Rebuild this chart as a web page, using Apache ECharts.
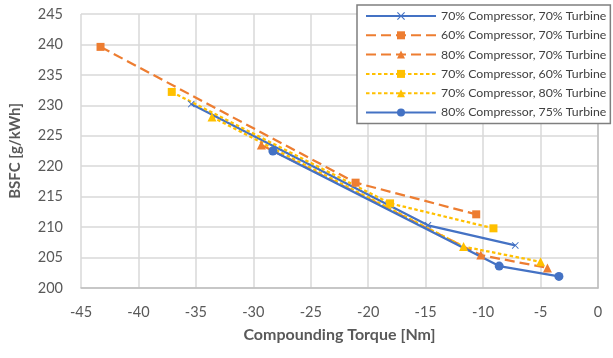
<!DOCTYPE html>
<html>
<head>
<meta charset="utf-8">
<script src="https://cdn.jsdelivr.net/npm/echarts@6/dist/echarts.min.js"></script>
<style>
  html, body { margin: 0; padding: 0; background: #fff; }
  #chart { width: 613px; height: 358px; }
</style>
</head>
<body>
<div id="chart"></div>
<script>
// series names
const seriesNames = [
  '70% Compressor, 70% Turbine',
  '60% Compressor, 70% Turbine',
  '80% Compressor, 70% Turbine',
  '70% Compressor, 60% Turbine',
  '70% Compressor, 80% Turbine',
  '80% Compressor, 75% Turbine'
];

// [torque, bsfc]
const c70t70 = [[-35.4, 230.2], [-14.8, 210.3], [-7.2, 207.0]];
const c60t70 = [[-43.3, 239.6], [-21.1, 217.3], [-10.6, 212.1]];
const c80t70 = [[-29.3, 223.5], [-10.2, 205.4], [-4.4, 203.3]];
const c70t60 = [[-37.1, 232.2], [-18.1, 213.9], [-9.1, 209.8]];
const c70t80 = [[-33.6, 228.1], [-11.7, 206.8], [-5.0, 204.3]];
const c80t75 = [[-28.3, 222.5], [-8.6, 203.6], [-3.4, 201.9]];

const xTicks = [-45, -40, -35, -30, -25, -20, -15, -10, -5, 0];
const yTicks = [200, 205, 210, 215, 220, 225, 230, 235, 240, 245];

const BLUE = '#4472C4', ORANGE = '#ED7D31', GOLD = '#FFC000';
const crossPath = 'path://M1,0L5,4L9,0L10,1L6,5L10,9L9,10L5,6L1,10L0,9L4,5L0,1Z';

const chart = echarts.init(document.getElementById('chart'), null, { renderer: 'canvas' });

const mk = (name, data, color, dash, symbol, size) => ({
  name,
  type: 'line',
  data,
  showSymbol: true,
  symbol,
  symbolSize: size,
  lineStyle: { color, width: 2.25, type: dash },
  itemStyle: { color, borderColor: color, borderWidth: 0 },
  animation: false
});

const option = {
  textStyle: { fontFamily: 'Lato, "Liberation Sans", sans-serif' },
  grid: { left: 80, right: 15, top: 14, bottom: 70 },
  xAxis: {
    type: 'value',
    min: xTicks[0],
    max: xTicks[xTicks.length - 1],
    interval: 5,
    name: 'Compounding Torque [Nm]',
    nameLocation: 'middle',
    nameGap: 39,
    nameTextStyle: { color: '#595959', fontSize: 16, fontWeight: 'bold' },
    axisLine: { lineStyle: { color: '#bfbfbf', width: 1.5 } },
    axisTick: { show: false },
    axisLabel: { color: '#595959', fontSize: 14.5, margin: 17 },
    splitLine: { lineStyle: { color: '#d9d9d9', width: 1.5 } }
  },
  yAxis: {
    type: 'value',
    min: yTicks[0],
    max: yTicks[yTicks.length - 1],
    interval: 5,
    name: 'BSFC [g/kWh]',
    nameLocation: 'middle',
    nameGap: 58,
    nameTextStyle: { color: '#595959', fontSize: 15, fontWeight: 'bold' },
    axisLine: { show: true, lineStyle: { color: '#bfbfbf', width: 1.5 } },
    axisTick: { show: false },
    axisLabel: { color: '#595959', fontSize: 14.5, margin: 18 },
    splitLine: { lineStyle: { color: '#d9d9d9', width: 1.5 } }
  },
  legend: {
    orient: 'vertical',
    left: 357,
    top: 5,
    padding: [4, 4, 4, 8],
    itemWidth: 70,
    itemHeight: 10,
    itemGap: 5.3,
    backgroundColor: '#fff',
    borderColor: '#7f7f7f',
    borderWidth: 1.5,
    textStyle: { color: '#404040', fontSize: 12.3, lineHeight: 14, fontFamily: 'Lato, sans-serif' },
    data: seriesNames
  },
  series: [
    mk(seriesNames[0], c70t70, BLUE, 'solid', crossPath, 7),
    mk(seriesNames[1], c60t70, ORANGE, [10, 5], 'rect', 8),
    mk(seriesNames[2], c80t70, ORANGE, [10, 5], 'triangle', 9),
    mk(seriesNames[3], c70t60, GOLD, [3.5, 2.5], 'rect', 8),
    mk(seriesNames[4], c70t80, GOLD, [3.5, 2.5], 'triangle', 9),
    mk(seriesNames[5], c80t75, BLUE, 'solid', 'circle', 9)
  ]
};

chart.setOption(option);
</script>
</body>
</html>
